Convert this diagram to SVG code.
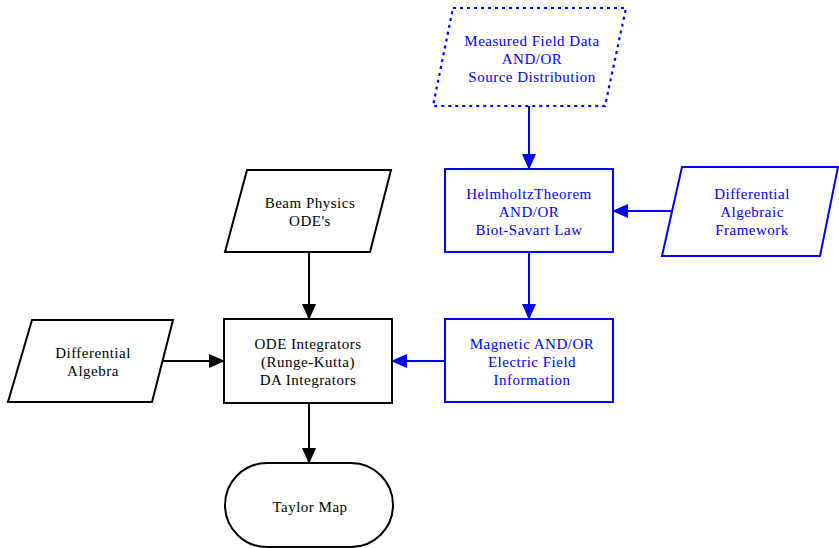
<svg xmlns="http://www.w3.org/2000/svg" width="839" height="548" viewBox="0 0 839 548">
<defs>
<style>
.k{fill:#fff;stroke:#000;stroke-width:2}
.b{fill:#fff;stroke:#0000ff;stroke-width:2}
.d{fill:#fff;stroke:#0000ff;stroke-width:2.2;stroke-dasharray:3 4}
text{font-family:"Liberation Serif","Times New Roman",serif;font-size:15px;letter-spacing:0.5px;text-anchor:middle}
.tk{fill:#000}
.tb{fill:#0000ff}
.ck{stroke:#000;stroke-width:2;fill:none}
.cb{stroke:#0000ff;stroke-width:2;fill:none}
</style>
<marker id="ak" markerWidth="16" markerHeight="14" refX="15" refY="7" orient="auto" markerUnits="userSpaceOnUse"><path d="M0,0 L16,7 L0,14 Z" fill="#000"/></marker>
<marker id="ab" markerWidth="16" markerHeight="14" refX="15" refY="7" orient="auto" markerUnits="userSpaceOnUse"><path d="M0,0 L16,7 L0,14 Z" fill="#0000ff"/></marker>
</defs>
<g id="connectors">
<line class="cb" x1="529" y1="106" x2="529" y2="169" marker-end="url(#ab)"/>
<line class="cb" x1="529" y1="252" x2="529" y2="319" marker-end="url(#ab)"/>
<line class="cb" x1="672" y1="211" x2="613" y2="211" marker-end="url(#ab)"/>
<line class="cb" x1="445" y1="361" x2="392" y2="361" marker-end="url(#ab)"/>
<line class="ck" x1="309" y1="252" x2="309" y2="319" marker-end="url(#ak)"/>
<line class="ck" x1="162" y1="361" x2="224" y2="361" marker-end="url(#ak)"/>
<line class="ck" x1="309" y1="403" x2="309" y2="463" marker-end="url(#ak)"/>
</g>
<g id="measured">
<polygon class="d" points="453,8 626,8 605,106 433,106"/>
<text class="tb" x="532" y="46">Measured Field Data</text>
<text class="tb" x="532" y="64">AND/OR</text>
<text class="tb" x="532" y="82">Source Distribution</text>
</g>
<g id="helmholtz">
<rect class="b" x="445" y="169" width="168" height="83"/>
<text class="tb" x="529" y="199">HelmholtzTheorem</text>
<text class="tb" x="529" y="217">AND/OR</text>
<text class="tb" x="529" y="235">Biot-Savart Law</text>
</g>
<g id="daframework">
<polygon class="b" points="682,167 838,167 820,256 662,256"/>
<text class="tb" x="752" y="199">Differential</text>
<text class="tb" x="752" y="217">Algebraic</text>
<text class="tb" x="752" y="235">Framework</text>
</g>
<g id="magnetic">
<rect class="b" x="445" y="319" width="168" height="83"/>
<text class="tb" x="532" y="349">Magnetic AND/OR</text>
<text class="tb" x="532" y="367">Electric Field</text>
<text class="tb" x="532" y="385">Information</text>
</g>
<g id="beam">
<polygon class="k" points="247,170 391,170 370,252 225,252"/>
<text class="tk" x="310" y="208">Beam Physics</text>
<text class="tk" x="310" y="226">ODE's</text>
</g>
<g id="ode">
<rect class="k" x="224" y="319" width="168" height="84"/>
<text class="tk" x="308" y="349">ODE Integrators</text>
<text class="tk" x="308" y="367">(Runge-Kutta)</text>
<text class="tk" x="308" y="385">DA Integrators</text>
</g>
<g id="diffalg">
<polygon class="k" points="32,320 173,320 152,402 8,402"/>
<text class="tk" x="93" y="358">Differential</text>
<text class="tk" x="93" y="376">Algebra</text>
</g>
<g id="taylor">
<rect class="k" x="225" y="463" width="168" height="84" rx="42" ry="42"/>
<text class="tk" x="310" y="512">Taylor Map</text>
</g>
</svg>
